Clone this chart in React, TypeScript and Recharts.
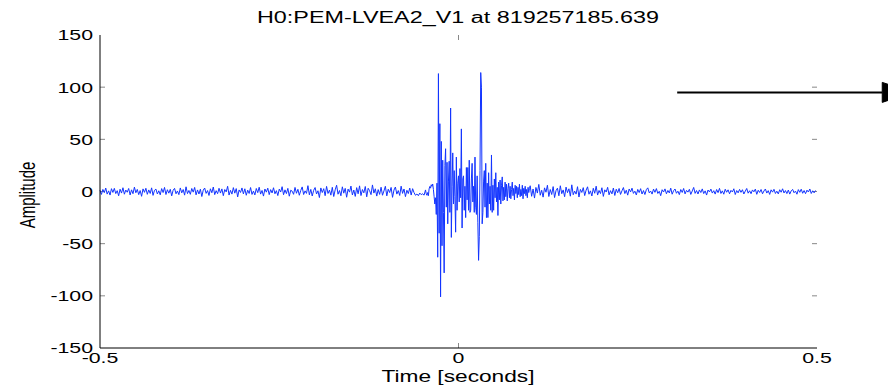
import React from "react"
import { LineChart, Line, XAxis, YAxis, ReferenceLine } from "recharts"

const preStart = -0.5
const preStep = 0.002
const preNoise = [
  1.2, -2.8, 2.0, -1.1, 3.3, -2.5, 0.6, -3.4, 2.7, -0.9, 3.0, -2.0, 0.8, -4.1, 2.2, -1.5, 3.6, -2.6, 1.4, -0.7,
  2.9, -3.3, 1.6, -2.1, 4.2, -1.2, 2.0, -3.0, 0.9, -4.6, 2.5, -0.8, 3.1, -2.7, 1.5, -1.9, 3.5, -3.7, 1.1, 2.3,
  -2.4, 0.7, -3.2, 2.8, -1.0, 3.9, -2.9, 1.7, -1.6, 2.1, -4.2, 1.2, 3.0, -2.2, 0.5, -3.0, 3.4, -1.3, 1.9, -3.5,
  4.5, -2.0, 1.0, -2.7, 2.9, -0.6, 3.9, -3.2, 1.5, -2.4, 2.2, -4.8, 1.3, 3.3, -1.8, 0.9, -3.8, 2.6, -1.2, 4.3,
  -3.0, 0.8, -2.1, 3.1, -1.5, 2.5, -4.0, 1.9, -0.4, 5.0, -3.4, 1.1, -2.5, 3.7, -1.6, 2.8, -5.2, 1.5, -0.9, 3.4,
  -2.3, 2.6, -3.6, 1.3, -1.9, 3.8, -2.8, 0.4, -3.3, 2.9, -1.1, 4.1, -2.5, 1.0, -4.4, 2.4, -0.6, 3.2, -3.0, 1.8,
  -1.4, 3.6, -2.2, 0.8, -3.9, 2.3, -0.5, 4.6, -3.1, 1.6, -2.0, 3.0, -4.5, 1.2, 0.3, -2.7, 3.9, -1.7, 2.1, -3.6,
  1.0, 4.4, -2.9, 0.6, -1.8, 5.6, -3.2, 2.0, -4.3, 1.1, 3.8, -2.4, 0.7, -5.8, 3.4, -1.0, 2.7, -4.0, 4.9, -1.9,
  1.3, -3.5, 4.0, -4.8, 1.6, 6.0, -2.6, 0.9, -4.1, 4.5, -1.6, 3.0, -5.5, 2.3, -0.6, 5.2, -3.3, 1.4, -4.7, 3.7,
  -2.2, 5.4, -3.9, 1.9, -1.3, 4.8, -5.1, 3.1, 0.8, -3.0, 6.3, -1.5, 2.6, -4.4, 1.8, -2.8, 4.1, -3.6, 0.5, 5.0,
  -4.2, 2.2, -1.0, 3.9, -5.6, 1.4, 4.3, -2.5, 0.9, -3.8, 5.1, -1.8, 2.4, -4.9, 1.2, -2.0, 3.3, -3.4, 2.7, -1.1,
  -3.6, -2.4, -4.0, -1.5, -3.0, -2.2, -3.5,
]

const burstStart = -0.046
const burstStep = 0.001
const burst = [
  1.5, -2.2, -3.6, -1.0, -4.0, 2.5, 4.8, 3.2, 6.5, 5.0, 7.2, 2.0, -5, -12, -6, -22, 8,
  -63, 113, -40, 65, -101, 48, -52, 30, -20, -78, 25, 41, -15, 28, -31, 10, 29, -20, 80,
  -44, 5, 37, -12, 20, -5, -39, 33, -18, 8, 15, -10, 22, -6, 60, -35, 12, 15, -18, 5,
  -25, 23, -8, 23, -18, 30, -20, -18, 12, 27, -10, 5, -20, 33, -15, -22, 15, -30, -66,
  -43, 20, 114, 100, -31, -20, 10, 20, -15, 27, -25, 8, -25, 18, -12, 5, -18, 35, -20,
  6, -18, 12, -6, 18, -10, 4, -23, 9, -8, 11, -12, 6, 14, -9, 4, -8, 9, -5, 7, -9, 3,
  8, -6, 5, -7, 2, 9, -4, 3, -8, 6, -2, 5, -6, 4, -3, 7, -5, 2, -4, 6, -7, 3, -2, 5,
  -4, 2, -6, 4, -1, 3,
]

const postStart = 0.1
const postStep = 0.002
const postNoise = [
  5.5, -4.6, 2.4, -6.3, 3.9, -1.5, 6.8, -3.6, 1.2, -5.4, 3.5, -0.7, 6.0, -4.8, 1.9, -2.9, 4.7, -5.8, 0.8, 3.2,
  -4.1, 5.5, -2.1, 1.5, -5.0, 4.2, -1.1, 2.6, -4.5, 6.4, -3.1, 0.4, -2.5, 4.6, -5.3, 2.0, -0.9, 3.7, -3.9, 1.3,
  4.5, -2.6, 0.6, -4.3, 3.1, -1.7, 5.1, -3.4, 1.0, -2.0, 3.6, -4.7, 1.6, -0.5, 4.0, -3.2, 0.8, -2.3, 3.3, -3.8,
  2.2, -1.2, 2.9, -2.8, 0.7, 3.8, -2.0, 1.2, -3.5, 2.4, -0.4, 3.2, -1.8, 0.3, -3.3, 2.0, -1.0, 2.7, -2.4, 0.9,
  -2.9, 1.8, 3.5, -1.3, 0.4, -2.5, 2.3, -0.8, 2.8, -1.9, 0.2, -4.0, 1.7, -0.5, 2.5, -2.2, 1.0, -1.4, 3.2, -2.6,
  0.8, 2.4, -1.7, 0.3, -3.0, 1.9, -0.9, 2.9, -2.3, 1.1, -0.6, 2.1, -2.8, 0.5, 3.9, -1.8, 0.9, -2.4, 1.5, -1.0,
  2.5, -2.0, 0.6, -3.4, 1.4, -0.4, 2.3, -1.5, 0.8, -2.5, 1.9, -1.1, 3.0, -1.9, 0.6, -2.6, 2.2, -0.7, 1.6, -2.2,
  1.1, -0.5, 2.6, -2.9, 0.9, -1.3, 2.0, -0.8, 1.7, -2.4, 0.4, 2.9, -1.6, 0.7, -2.1, 1.5, -0.3, 2.3, -2.7, 1.2,
  -0.9, 1.9, -2.2, 0.5, 2.4, -1.5, 0.8, -2.8, 1.6, -0.6, 2.1, -1.9, 0.3, -2.3, 1.7, -0.7, 2.6, -1.4, 0.9, -2.0,
  1.4, -2.5, 0.6, 2.0, -1.2, 0.4, -2.6, 1.8, -0.8, 2.2, -1.7, 0.9, -2.1, 1.3, -0.5, 2.4, -1.9, 0.7, -1.3, 1.0,
]

const xTicks = [-0.5, 0, 0.5]
const yTicks = [-150, -100, -50, 0, 50, 100, 150]
const arrowFrom = { x: 0.305, y: 95 }
const arrowTo = { x: 0.591, y: 95 }

const title = "H0:PEM-LVEA2_V1 at 819257185.639"
const xLabel = "Time [seconds]"
const yLabel = "Amplitude"

const toRows = (start: number, step: number, vals: number[]) =>
  vals.map((v, i) => ({ t: +(start + i * step).toFixed(4), v }))

const data = [
  ...toRows(preStart, preStep, preNoise),
  ...toRows(burstStart, burstStep, burst),
  ...toRows(postStart, postStep, postNoise),
]

const W = 888
const H = 385
const PLOT_W = 717
const PLOT_H = 313
const TICK = 5
const font = "'Liberation Sans', Arial, sans-serif"
const stretch = 1.42

const YTick = ({ x, y, payload }: any) => (
  <g transform={`translate(${x},${y})`}>
    <text transform={`scale(${stretch},1)`} textAnchor="end" dy="0.36em" fontSize={15} fontFamily={font} fill="#000">
      {payload.value}
    </text>
  </g>
)

const XTick = ({ x, y, payload }: any) => (
  <g transform={`translate(${x},${y})`}>
    <text transform={`scale(${stretch},1)`} textAnchor="middle" dy="0.71em" fontSize={15} fontFamily={font} fill="#000">
      {payload.value}
    </text>
  </g>
)

const Arrow = (props: any) => {
  const x1 = Number(props.x1)
  const y1 = Number(props.y1)
  const x2 = Number(props.x2)
  const y2 = Number(props.y2)
  return (
    <g>
      <line x1={x1} y1={y1} x2={x2} y2={y2} stroke="#000" strokeWidth={2} />
      <path d={`M${x2},${y2 - 10} L${x2 + 30},${y2} L${x2},${y2 + 10} Z`} fill="#000" stroke="#000" />
    </g>
  )
}

export default function App() {
  const tx = TICK / PLOT_W
  const ty = (TICK * 300) / PLOT_H
  return (
    <div style={{ position: "absolute", left: 0, top: 0, width: W, height: H, overflow: "hidden" }}>
      <LineChart width={W} height={H} data={data} margin={{ top: 35, right: 71, bottom: 0, left: 0 }}>
        <XAxis
          dataKey="t"
          type="number"
          domain={[-0.5, 0.5]}
          ticks={xTicks}
          height={37}
          tickSize={0}
          tickMargin={4}
          tickLine={false}
          axisLine={{ stroke: "#000" }}
          tick={<XTick />}
          interval={0}
        />
        <XAxis xAxisId="top" orientation="top" type="number" domain={[-0.5, 0.5]} height={0} tick={false} tickLine={false} axisLine={{ stroke: "#000" }} />
        <YAxis
          type="number"
          domain={[-150, 150]}
          ticks={yTicks}
          width={100}
          tickSize={0}
          tickMargin={7}
          tickLine={false}
          axisLine={{ stroke: "#000" }}
          tick={<YTick />}
          interval={0}
        />
        <YAxis yAxisId="right" orientation="right" type="number" domain={[-150, 150]} width={0} tick={false} tickLine={false} axisLine={{ stroke: "#000" }} />
        {yTicks.slice(1, -1).map((y) => (
          <ReferenceLine key={`l${y}`} segment={[{ x: -0.5, y }, { x: -0.5 + tx, y }]} stroke="#888" ifOverflow="visible" />
        ))}
        {yTicks.slice(1, -1).map((y) => (
          <ReferenceLine key={`r${y}`} segment={[{ x: 0.5 - tx, y }, { x: 0.5, y }]} stroke="#888" ifOverflow="visible" />
        ))}
        {xTicks.slice(1, -1).map((x) => (
          <ReferenceLine key={`b${x}`} segment={[{ x, y: -150 }, { x, y: -150 + ty }]} stroke="#888" ifOverflow="visible" />
        ))}
        {xTicks.slice(1, -1).map((x) => (
          <ReferenceLine key={`t${x}`} segment={[{ x, y: 150 - ty }, { x, y: 150 }]} stroke="#888" ifOverflow="visible" />
        ))}
        <Line dataKey="v" stroke="#1234ff" strokeWidth={1} dot={false} isAnimationActive={false} />
        <ReferenceLine segment={[arrowFrom, arrowTo]} ifOverflow="visible" shape={<Arrow />} />
      </LineChart>
      <svg width={W} height={H} style={{ position: "absolute", left: 0, top: 0, pointerEvents: "none" }}>
        <text x={458} y={17} dy="0.36em" textAnchor="middle" fontSize={16} fontFamily={font} textLength={402} lengthAdjust="spacingAndGlyphs">
          {title}
        </text>
        <g transform="translate(458,376)">
          <text transform={`scale(${stretch},1)`} textAnchor="middle" dy="0.36em" fontSize={16} fontFamily={font}>
            {xLabel}
          </text>
        </g>
        <g transform={`translate(27,195) scale(${stretch},1) rotate(-90)`}>
          <text textAnchor="middle" dy="0.36em" fontSize={15} fontFamily={font}>
            {yLabel}
          </text>
        </g>
      </svg>
    </div>
  )
}
